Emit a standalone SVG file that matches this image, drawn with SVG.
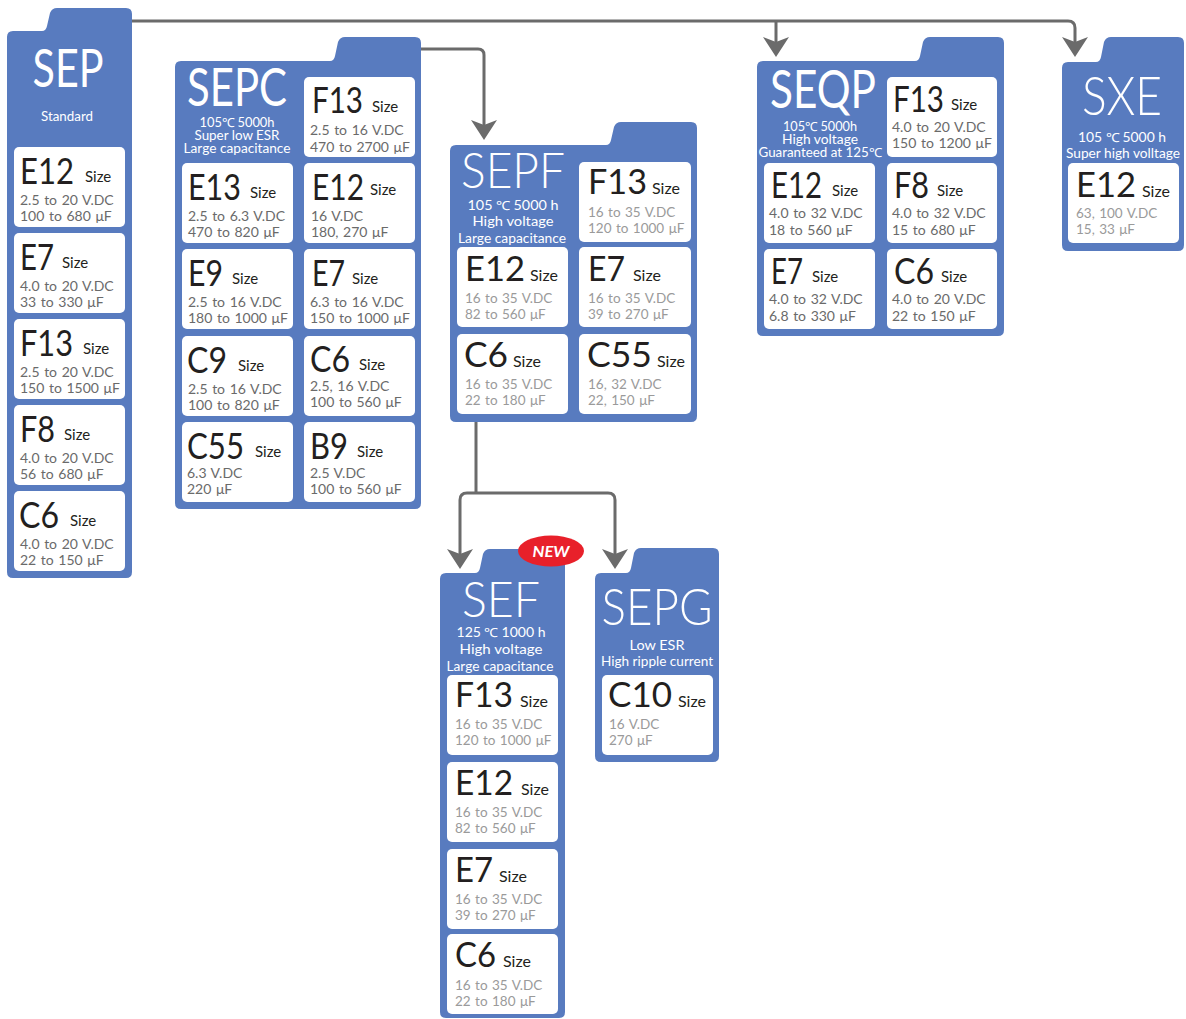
<svg xmlns="http://www.w3.org/2000/svg" width="1186" height="1019" viewBox="0 0 1186 1019">
<style>
.p{fill:#587bbf}
.c{fill:#fff}
.ttl{font-family:Lato,"Open Sans",sans-serif;fill:#fff;text-anchor:middle;font-weight:400}
.thin{font-weight:300}
.sub{font-size:12.5px;font-weight:400}
.lb{font-family:Lato,"Open Sans",sans-serif;font-size:36px;fill:#231f20}
.lbB{font-size:34px}
.sz{font-family:Lato,"Open Sans",sans-serif;font-size:15px;fill:#231f20}
.szB{font-size:16px}
.sp{font-family:Lato,"Open Sans",sans-serif;font-size:14px;fill:#6a6a6a;word-spacing:1px}
.spB{fill:#9a9a9a;font-size:13.5px}
.conn{fill:none;stroke:#6b6b6b;stroke-width:3;marker-end:url(#ah)}
.conn0{fill:none;stroke:#6b6b6b;stroke-width:3}
</style>
<defs>
<marker id="ah" viewBox="-10 -13 20 26" refX="0" refY="0" markerWidth="20" markerHeight="26" markerUnits="userSpaceOnUse" orient="auto">
<path d="M10,0 L-10,-13 L-5,0 L-10,13 Z" fill="#6b6b6b"/>
</marker>
</defs>

<g id="connectors">
<path class="conn" d="M132,21 H1068 Q1075,21 1075,28 V47"/>
<path class="conn" d="M776,21 V47"/>
<path class="conn" d="M421,49 H478 Q484,49 484,55 V130"/>
<path class="conn0" d="M476,422 V493"/>
<path class="conn" d="M476,493 H467 Q460,493 460,500 V559"/>
<path class="conn" d="M476,493 H608 Q615,493 615,500 V559"/>
</g>

<g id="SEP">
<path class="p" d="M7,37 Q7,31 13,31 H42 Q46,31 47,26 L50,13 Q52,8 57,8 H126 Q132,8 132,14 V572 Q132,578 126,578 H13 Q7,578 7,572 Z"/>
<text class="ttl" x="68" y="87" font-size="52" textLength="71" lengthAdjust="spacingAndGlyphs">SEP</text>
<text class="ttl sub" x="67" y="121" textLength="52" lengthAdjust="spacingAndGlyphs">Standard</text>
<g id="SEP-E12"><rect class="c" x="14" y="147" width="111" height="80" rx="5"/>
<text class="lb" x="20" y="184" textLength="54" lengthAdjust="spacingAndGlyphs">E12</text><text class="sz" x="85" y="182">Size</text>
<text class="sp" x="20" y="205">2.5 to 20 V.DC</text><text class="sp" x="20" y="221">100 to 680 μF</text></g>
<g id="SEP-E7"><rect class="c" x="14" y="233" width="111" height="80" rx="5"/>
<text class="lb" x="20" y="270" textLength="34" lengthAdjust="spacingAndGlyphs">E7</text><text class="sz" x="62" y="268">Size</text>
<text class="sp" x="20" y="291">4.0 to 20 V.DC</text><text class="sp" x="20" y="307">33 to 330 μF</text></g>
<g id="SEP-F13"><rect class="c" x="14" y="319" width="111" height="80" rx="5"/>
<text class="lb" x="20" y="356" textLength="53" lengthAdjust="spacingAndGlyphs">F13</text><text class="sz" x="83" y="354">Size</text>
<text class="sp" x="20" y="377">2.5 to 20 V.DC</text><text class="sp" x="20" y="393">150 to 1500 μF</text></g>
<g id="SEP-F8"><rect class="c" x="14" y="405" width="111" height="80" rx="5"/>
<text class="lb" x="20" y="442" textLength="35" lengthAdjust="spacingAndGlyphs">F8</text><text class="sz" x="64" y="440">Size</text>
<text class="sp" x="20" y="463">4.0 to 20 V.DC</text><text class="sp" x="20" y="479">56 to 680 μF</text></g>
<g id="SEP-C6"><rect class="c" x="14" y="491" width="111" height="80" rx="5"/>
<text class="lb" x="19" y="528" textLength="40" lengthAdjust="spacingAndGlyphs">C6</text><text class="sz" x="70" y="526">Size</text>
<text class="sp" x="20" y="549">4.0 to 20 V.DC</text><text class="sp" x="20" y="565">22 to 150 μF</text></g>
</g>

<g id="SEPC">
<path class="p" d="M175,67 Q175,61 181,61 H330 Q334,61 335,56 L338,42 Q340,37 345,37 H415 Q421,37 421,43 V503 Q421,509 415,509 H181 Q175,509 175,503 Z"/>
<text class="ttl" x="237" y="106" font-size="53" textLength="100" lengthAdjust="spacingAndGlyphs">SEPC</text>
<text class="ttl sub" x="237" y="127" textLength="75" lengthAdjust="spacingAndGlyphs">105℃ 5000h</text>
<text class="ttl sub" x="237" y="140" textLength="85" lengthAdjust="spacingAndGlyphs">Super low ESR</text>
<text class="ttl sub" x="237" y="153" textLength="107" lengthAdjust="spacingAndGlyphs">Large capacitance</text>
<g id="SEPC-F13"><rect class="c" x="304" y="77" width="111" height="80" rx="5"/>
<text class="lb" x="312" y="113" textLength="51" lengthAdjust="spacingAndGlyphs">F13</text><text class="sz" x="372" y="112">Size</text>
<text class="sp" x="310" y="135">2.5 to 16 V.DC</text><text class="sp" x="310" y="152">470 to 2700 μF</text></g>
<g id="SEPC-E13"><rect class="c" x="182" y="163" width="111" height="80" rx="5"/>
<text class="lb" x="188" y="200" textLength="53" lengthAdjust="spacingAndGlyphs">E13</text><text class="sz" x="250" y="198">Size</text>
<text class="sp" x="188" y="221">2.5 to 6.3 V.DC</text><text class="sp" x="188" y="237">470 to 820 μF</text></g>
<g id="SEPC-E12"><rect class="c" x="304" y="163" width="111" height="80" rx="5"/>
<text class="lb" x="312" y="200" textLength="52" lengthAdjust="spacingAndGlyphs">E12</text><text class="sz" x="370" y="195">Size</text>
<text class="sp" x="311" y="221">16 V.DC</text><text class="sp" x="311" y="237">180, 270 μF</text></g>
<g id="SEPC-E9"><rect class="c" x="182" y="249" width="111" height="80" rx="5"/>
<text class="lb" x="188" y="286" textLength="35" lengthAdjust="spacingAndGlyphs">E9</text><text class="sz" x="232" y="284">Size</text>
<text class="sp" x="188" y="307">2.5 to 16 V.DC</text><text class="sp" x="188" y="323">180 to 1000 μF</text></g>
<g id="SEPC-E7"><rect class="c" x="304" y="249" width="111" height="80" rx="5"/>
<text class="lb" x="312" y="286" textLength="33" lengthAdjust="spacingAndGlyphs">E7</text><text class="sz" x="352" y="284">Size</text>
<text class="sp" x="310" y="307">6.3 to 16 V.DC</text><text class="sp" x="310" y="323">150 to 1000 μF</text></g>
<g id="SEPC-C9"><rect class="c" x="182" y="336" width="111" height="80" rx="5"/>
<text class="lb" x="187" y="373" textLength="40" lengthAdjust="spacingAndGlyphs">C9</text><text class="sz" x="238" y="371">Size</text>
<text class="sp" x="188" y="394">2.5 to 16 V.DC</text><text class="sp" x="188" y="410">100 to 820 μF</text></g>
<g id="SEPC-C6"><rect class="c" x="304" y="336" width="111" height="80" rx="5"/>
<text class="lb" x="310" y="372" textLength="40" lengthAdjust="spacingAndGlyphs">C6</text><text class="sz" x="359" y="370">Size</text>
<text class="sp" x="310" y="391">2.5, 16 V.DC</text><text class="sp" x="310" y="407">100 to 560 μF</text></g>
<g id="SEPC-C55"><rect class="c" x="182" y="422" width="111" height="80" rx="5"/>
<text class="lb" x="187" y="459" textLength="57" lengthAdjust="spacingAndGlyphs">C55</text><text class="sz" x="255" y="457">Size</text>
<text class="sp" x="187" y="478">6.3 V.DC</text><text class="sp" x="187" y="494">220 μF</text></g>
<g id="SEPC-B9"><rect class="c" x="304" y="422" width="111" height="80" rx="5"/>
<text class="lb" x="310" y="459" textLength="38" lengthAdjust="spacingAndGlyphs">B9</text><text class="sz" x="357" y="457">Size</text>
<text class="sp" x="310" y="478">2.5 V.DC</text><text class="sp" x="310" y="494">100 to 560 μF</text></g>
</g>

<g id="SEPF">
<path class="p" d="M450,151 Q450,145 456,145 H606 Q610,145 611,140 L614,127 Q616,122 621,122 H691 Q697,122 697,128 V416 Q697,422 691,422 H456 Q450,422 450,416 Z"/>
<text class="ttl thin" x="513" y="188" font-size="49" textLength="104" lengthAdjust="spacingAndGlyphs">SEPF</text>
<text class="ttl sub" x="513" y="210" font-size="14" textLength="91" lengthAdjust="spacingAndGlyphs">105 ℃ 5000 h</text>
<text class="ttl sub" x="513" y="226" font-size="14" textLength="81" lengthAdjust="spacingAndGlyphs">High voltage</text>
<text class="ttl sub" x="512" y="243" font-size="14" textLength="108" lengthAdjust="spacingAndGlyphs">Large capacitance</text>
<g id="SEPF-F13"><rect class="c" x="579" y="162" width="112" height="80" rx="5"/>
<text class="lb lbB" x="588" y="194" textLength="59" lengthAdjust="spacingAndGlyphs">F13</text><text class="sz szB" x="652" y="194">Size</text>
<text class="sp spB" x="588" y="217">16 to 35 V.DC</text><text class="sp spB" x="588" y="233">120 to 1000 μF</text></g>
<g id="SEPF-E12"><rect class="c" x="457" y="247" width="111" height="80" rx="5"/>
<text class="lb lbB" x="465" y="281" textLength="60" lengthAdjust="spacingAndGlyphs">E12</text><text class="sz szB" x="530" y="281">Size</text>
<text class="sp spB" x="465" y="303">16 to 35 V.DC</text><text class="sp spB" x="465" y="319">82 to 560 μF</text></g>
<g id="SEPF-E7"><rect class="c" x="579" y="247" width="112" height="80" rx="5"/>
<text class="lb lbB" x="588" y="281" textLength="37" lengthAdjust="spacingAndGlyphs">E7</text><text class="sz szB" x="633" y="281">Size</text>
<text class="sp spB" x="588" y="303">16 to 35 V.DC</text><text class="sp spB" x="588" y="319">39 to 270 μF</text></g>
<g id="SEPF-C6"><rect class="c" x="457" y="334" width="111" height="80" rx="5"/>
<text class="lb lbB" x="464" y="367" textLength="44" lengthAdjust="spacingAndGlyphs">C6</text><text class="sz szB" x="513" y="367">Size</text>
<text class="sp spB" x="465" y="389">16 to 35 V.DC</text><text class="sp spB" x="465" y="405">22 to 180 μF</text></g>
<g id="SEPF-C55"><rect class="c" x="579" y="334" width="112" height="80" rx="5"/>
<text class="lb lbB" x="587" y="367" textLength="65" lengthAdjust="spacingAndGlyphs">C55</text><text class="sz szB" x="657" y="367">Size</text>
<text class="sp spB" x="588" y="389">16, 32 V.DC</text><text class="sp spB" x="588" y="405">22, 150 μF</text></g>
</g>

<g id="SEQP">
<path class="p" d="M757,67 Q757,61 763,61 H915 Q919,61 920,56 L923,42 Q925,37 930,37 H998 Q1004,37 1004,43 V330 Q1004,336 998,336 H763 Q757,336 757,330 Z"/>
<text class="ttl" x="823" y="108" font-size="52" textLength="106" lengthAdjust="spacingAndGlyphs">SEQP</text>
<text class="ttl sub" x="820" y="131" textLength="74" lengthAdjust="spacingAndGlyphs">105℃ 5000h</text>
<text class="ttl sub" x="820" y="144" textLength="76" lengthAdjust="spacingAndGlyphs">High voltage</text>
<text class="ttl sub" x="820" y="157" textLength="123" lengthAdjust="spacingAndGlyphs">Guaranteed at 125℃</text>
<g id="SEQP-F13"><rect class="c" x="887" y="77" width="110" height="80" rx="5"/>
<text class="lb" x="893" y="112" textLength="51" lengthAdjust="spacingAndGlyphs">F13</text><text class="sz" x="951" y="110">Size</text>
<text class="sp" x="892" y="132">4.0 to 20 V.DC</text><text class="sp" x="892" y="148">150 to 1200 μF</text></g>
<g id="SEQP-E12"><rect class="c" x="764" y="163" width="111" height="80" rx="5"/>
<text class="lb" x="771" y="198" textLength="51" lengthAdjust="spacingAndGlyphs">E12</text><text class="sz" x="832" y="196">Size</text>
<text class="sp" x="769" y="218">4.0 to 32 V.DC</text><text class="sp" x="769" y="235">18 to 560 μF</text></g>
<g id="SEQP-F8"><rect class="c" x="887" y="163" width="110" height="80" rx="5"/>
<text class="lb" x="894" y="198" textLength="35" lengthAdjust="spacingAndGlyphs">F8</text><text class="sz" x="937" y="196">Size</text>
<text class="sp" x="892" y="218">4.0 to 32 V.DC</text><text class="sp" x="892" y="235">15 to 680 μF</text></g>
<g id="SEQP-E7"><rect class="c" x="764" y="249" width="111" height="80" rx="5"/>
<text class="lb" x="771" y="284" textLength="32" lengthAdjust="spacingAndGlyphs">E7</text><text class="sz" x="812" y="282">Size</text>
<text class="sp" x="769" y="304">4.0 to 32 V.DC</text><text class="sp" x="769" y="321">6.8 to 330 μF</text></g>
<g id="SEQP-C6"><rect class="c" x="887" y="249" width="110" height="80" rx="5"/>
<text class="lb" x="894" y="284" textLength="40" lengthAdjust="spacingAndGlyphs">C6</text><text class="sz" x="941" y="282">Size</text>
<text class="sp" x="892" y="304">4.0 to 20 V.DC</text><text class="sp" x="892" y="321">22 to 150 μF</text></g>
</g>

<g id="SXE">
<path class="p" d="M1062,68 Q1062,62 1068,62 H1096 Q1100,62 1101,57 L1104,42 Q1106,37 1111,37 H1178 Q1184,37 1184,43 V245 Q1184,251 1178,251 H1068 Q1062,251 1062,245 Z"/>
<text class="ttl thin" x="1122" y="115" font-size="53" textLength="80" lengthAdjust="spacingAndGlyphs">SXE</text>
<text class="ttl sub" x="1122" y="142" font-size="14" textLength="88" lengthAdjust="spacingAndGlyphs">105 ℃ 5000 h</text>
<text class="ttl sub" x="1123" y="158" font-size="14" textLength="114" lengthAdjust="spacingAndGlyphs">Super high volltage</text>
<g id="SXE-E12"><rect class="c" x="1068" y="163" width="111" height="80" rx="5"/>
<text class="lb lbB" x="1076" y="197" textLength="60" lengthAdjust="spacingAndGlyphs">E12</text><text class="sz szB" x="1142" y="197">Size</text>
<text class="sp spB" x="1076" y="218">63, 100 V.DC</text><text class="sp spB" x="1076" y="234">15, 33 μF</text></g>
</g>

<g id="SEF">
<path class="p" d="M440,579 Q440,573 446,573 H475 Q479,573 480,568 L483,554 Q485,549 490,549 H559 Q565,549 565,555 V1012 Q565,1018 559,1018 H446 Q440,1018 440,1012 Z"/>
<text class="ttl thin" x="501" y="617" font-size="49" textLength="78" lengthAdjust="spacingAndGlyphs">SEF</text>
<text class="ttl sub" x="501" y="637" font-size="14" textLength="89" lengthAdjust="spacingAndGlyphs">125 ℃ 1000 h</text>
<text class="ttl sub" x="501" y="654" font-size="14" textLength="83" lengthAdjust="spacingAndGlyphs">High voltage</text>
<text class="ttl sub" x="500" y="671" font-size="14" textLength="107" lengthAdjust="spacingAndGlyphs">Large capacitance</text>
<g id="SEF-F13"><rect class="c" x="447" y="675" width="111" height="80" rx="5"/>
<text class="lb lbB" x="455" y="707" textLength="58" lengthAdjust="spacingAndGlyphs">F13</text><text class="sz szB" x="520" y="707">Size</text>
<text class="sp spB" x="455" y="729">16 to 35 V.DC</text><text class="sp spB" x="455" y="745">120 to 1000 μF</text></g>
<g id="SEF-E12"><rect class="c" x="447" y="762" width="111" height="80" rx="5"/>
<text class="lb lbB" x="455" y="795" textLength="58" lengthAdjust="spacingAndGlyphs">E12</text><text class="sz szB" x="521" y="795">Size</text>
<text class="sp spB" x="455" y="817">16 to 35 V.DC</text><text class="sp spB" x="455" y="833">82 to 560 μF</text></g>
<g id="SEF-E7"><rect class="c" x="447" y="849" width="111" height="80" rx="5"/>
<text class="lb lbB" x="455" y="882" textLength="38" lengthAdjust="spacingAndGlyphs">E7</text><text class="sz szB" x="499" y="882">Size</text>
<text class="sp spB" x="455" y="904">16 to 35 V.DC</text><text class="sp spB" x="455" y="920">39 to 270 μF</text></g>
<g id="SEF-C6"><rect class="c" x="447" y="934" width="111" height="80" rx="5"/>
<text class="lb lbB" x="455" y="967" textLength="41" lengthAdjust="spacingAndGlyphs">C6</text><text class="sz szB" x="503" y="967">Size</text>
<text class="sp spB" x="455" y="990">16 to 35 V.DC</text><text class="sp spB" x="455" y="1006">22 to 180 μF</text></g>
<g id="SEF-new">
<ellipse cx="551" cy="551" rx="33" ry="15.5" fill="#e8202a"/>
<text x="551" y="557" font-family="Lato,'Open Sans',sans-serif" font-size="16" font-weight="bold" font-style="italic" fill="#fff" text-anchor="middle" textLength="37" lengthAdjust="spacingAndGlyphs">NEW</text>
</g>
</g>

<g id="SEPG">
<path class="p" d="M595,579 Q595,573 601,573 H626 Q630,573 631,568 L634,553 Q636,548 641,548 H713 Q719,548 719,554 V756 Q719,762 713,762 H601 Q595,762 595,756 Z"/>
<text class="ttl thin" x="657" y="625" font-size="52" textLength="111" lengthAdjust="spacingAndGlyphs">SEPG</text>
<text class="ttl sub" x="657" y="650" font-size="14" textLength="55" lengthAdjust="spacingAndGlyphs">Low ESR</text>
<text class="ttl sub" x="657" y="666" font-size="14" textLength="112" lengthAdjust="spacingAndGlyphs">High ripple current</text>
<g id="SEPG-C10"><rect class="c" x="602" y="675" width="111" height="80" rx="5"/>
<text class="lb lbB" x="608" y="707" textLength="64" lengthAdjust="spacingAndGlyphs">C10</text><text class="sz szB" x="678" y="707">Size</text>
<text class="sp spB" x="609" y="729">16 V.DC</text><text class="sp spB" x="609" y="745">270 μF</text></g>
</g>
</svg>
